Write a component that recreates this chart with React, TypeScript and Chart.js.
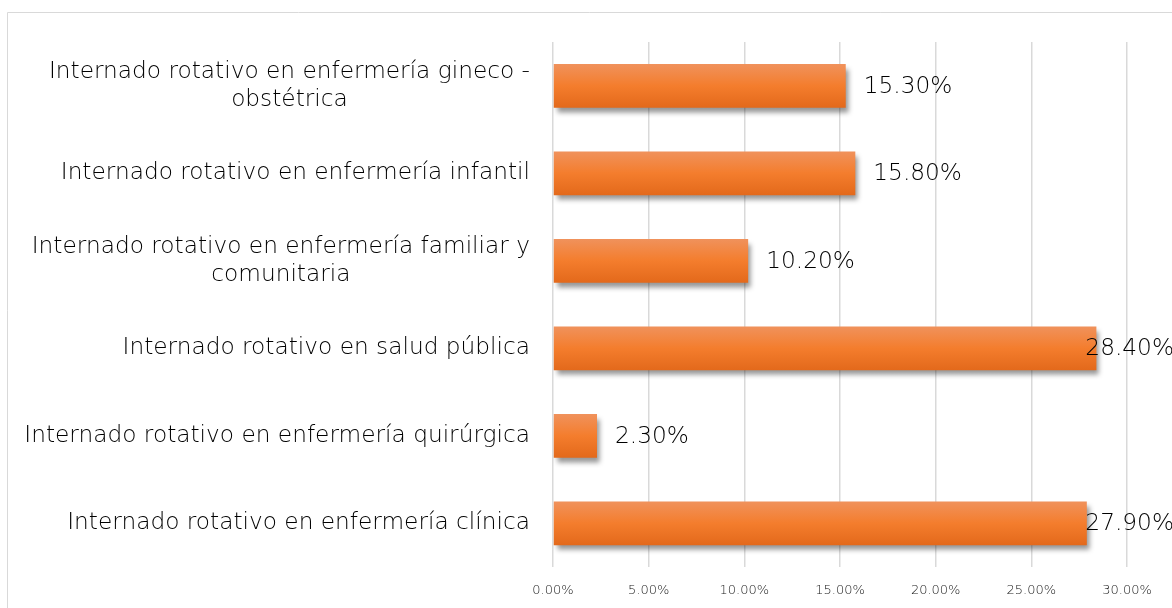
import React, { useEffect, useRef } from "react";
import { Chart, registerables } from "chart.js";

Chart.register(...registerables);

const categories: (string | string[])[] = [
  ["Internado rotativo en enfermería gineco -", "obstétrica"],
  "Internado rotativo en enfermería infantil",
  ["Internado rotativo en enfermería familiar y", "comunitaria"],
  "Internado rotativo en salud pública",
  "Internado rotativo en enfermería quirúrgica",
  "Internado rotativo en enfermería clínica",
];
const values = [15.3, 15.8, 10.2, 28.4, 2.3, 27.9];
const xMin = 0;
const xMax = 30;
const xStep = 5;

const FONT = "'DejaVu Sans', 'Noto Sans', sans-serif";
const WEIGHT = 300;
const W = 1172;
const H = 608;
const BAR_PCT = 0.5;

export default function App() {
  const ref = useRef<HTMLCanvasElement | null>(null);

  useEffect(() => {
    if (!ref.current) return;

    const frame = {
      id: "frame",
      beforeDraw(chart: any) {
        const ctx = chart.ctx;
        ctx.save();
        ctx.fillStyle = "#ffffff";
        ctx.fillRect(0, 0, W, H);
        ctx.strokeStyle = "#d9d9d9";
        ctx.lineWidth = 1;
        ctx.beginPath();
        ctx.moveTo(7.5, H);
        ctx.lineTo(7.5, 12.5);
        ctx.lineTo(W, 12.5);
        ctx.stroke();
        ctx.restore();
      },
    };

    const shadow = {
      id: "shadow",
      beforeDatasetsDraw(chart: any) {
        const ctx = chart.ctx;
        ctx.save();
        ctx.shadowColor = "rgba(0,0,0,0.42)";
        ctx.shadowBlur = 5;
        ctx.shadowOffsetX = 3;
        ctx.shadowOffsetY = 5;
      },
      afterDatasetsDraw(chart: any) {
        chart.ctx.restore();
      },
    };

    const labelsPlugin = {
      id: "labelsPlugin",
      afterDraw(chart: any) {
        const ctx = chart.ctx;
        const yScale = chart.scales.y;
        const xScale = chart.scales.x;
        ctx.save();
        ctx.font = `${WEIGHT} 20px ${FONT}`;
        const refW = ctx.measureText("Internado rotativo en enfermería clínica").width;
        const size = Math.max(14, Math.min(24, (20 * 463) / refW));
        ctx.font = `${WEIGHT} ${size}px ${FONT}`;
        ctx.fillStyle = "#000000";
        ctx.textBaseline = "middle";
        ctx.textAlign = "center";
        const rightEdge = 530;
        const lineH = 28;
        categories.forEach((lab, i) => {
          const lines = Array.isArray(lab) ? lab : [lab];
          const blockW = Math.max(...lines.map((l) => ctx.measureText(l).width));
          const cx = rightEdge - blockW / 2;
          const cy = yScale.getPixelForValue(i);
          const startY = cy - ((lines.length - 1) * lineH) / 2;
          lines.forEach((l, j) => ctx.fillText(l, cx, startY + j * lineH));
        });
        ctx.textAlign = "left";
        values.forEach((v, i) => {
          const txt = v.toFixed(2) + "%";
          const w = ctx.measureText(txt).width;
          const end = xScale.getPixelForValue(v);
          const x = Math.min(end + 18, W + 2 - w);
          const y = yScale.getPixelForValue(i) + 1;
          ctx.fillText(txt, x, y);
        });
        ctx.restore();
      },
    };

    const barColor = (c: any) => {
      const chart = c.chart;
      const y = chart.scales && chart.scales.y;
      if (!y || !chart.chartArea) return "#f47d2d";
      const center = y.getPixelForValue(c.dataIndex);
      const half = ((y.height / categories.length) * BAR_PCT) / 2;
      const g = chart.ctx.createLinearGradient(0, center - half, 0, center + half);
      g.addColorStop(0, "#f0925c");
      g.addColorStop(0.5, "#f47d2d");
      g.addColorStop(1, "#e3691b");
      return g;
    };

    const chart = new Chart(ref.current, {
      type: "bar",
      data: {
        labels: categories.map((c, i) => String(i)),
        datasets: [
          {
            data: values,
            backgroundColor: barColor,
            borderWidth: 0,
            barPercentage: BAR_PCT,
            categoryPercentage: 1,
          },
        ],
      },
      options: {
        indexAxis: "y",
        animation: false,
        responsive: false,
        maintainAspectRatio: false,
        devicePixelRatio: 1,
        layout: { padding: { left: 553, right: 45, top: 42, bottom: 0 } },
        plugins: {
          legend: { display: false },
          tooltip: { enabled: false },
        },
        scales: {
          y: {
            type: "category",
            display: false,
          },
          x: {
            type: "linear",
            min: xMin,
            max: xMax,
            position: "bottom",
            border: { display: false },
            grid: {
              color: "#d9d9d9",
              lineWidth: 1.5,
              drawTicks: false,
            },
            ticks: {
              stepSize: xStep,
              padding: 16,
              color: "#1a1a1a",
              font: { family: FONT, size: 13, weight: WEIGHT as any },
              callback: (v: any) => Number(v).toFixed(2) + "%",
            },
            afterFit(scale: any) {
              scale.height = 41;
            },
          },
        },
      },
      plugins: [frame, shadow, labelsPlugin],
    });

    return () => chart.destroy();
  }, []);

  return (
    <div style={{ position: "fixed", left: 0, top: 0, width: W, height: H, background: "#fff" }}>
      <canvas ref={ref} width={W} height={H} style={{ width: W, height: H, display: "block" }} />
    </div>
  );
}
